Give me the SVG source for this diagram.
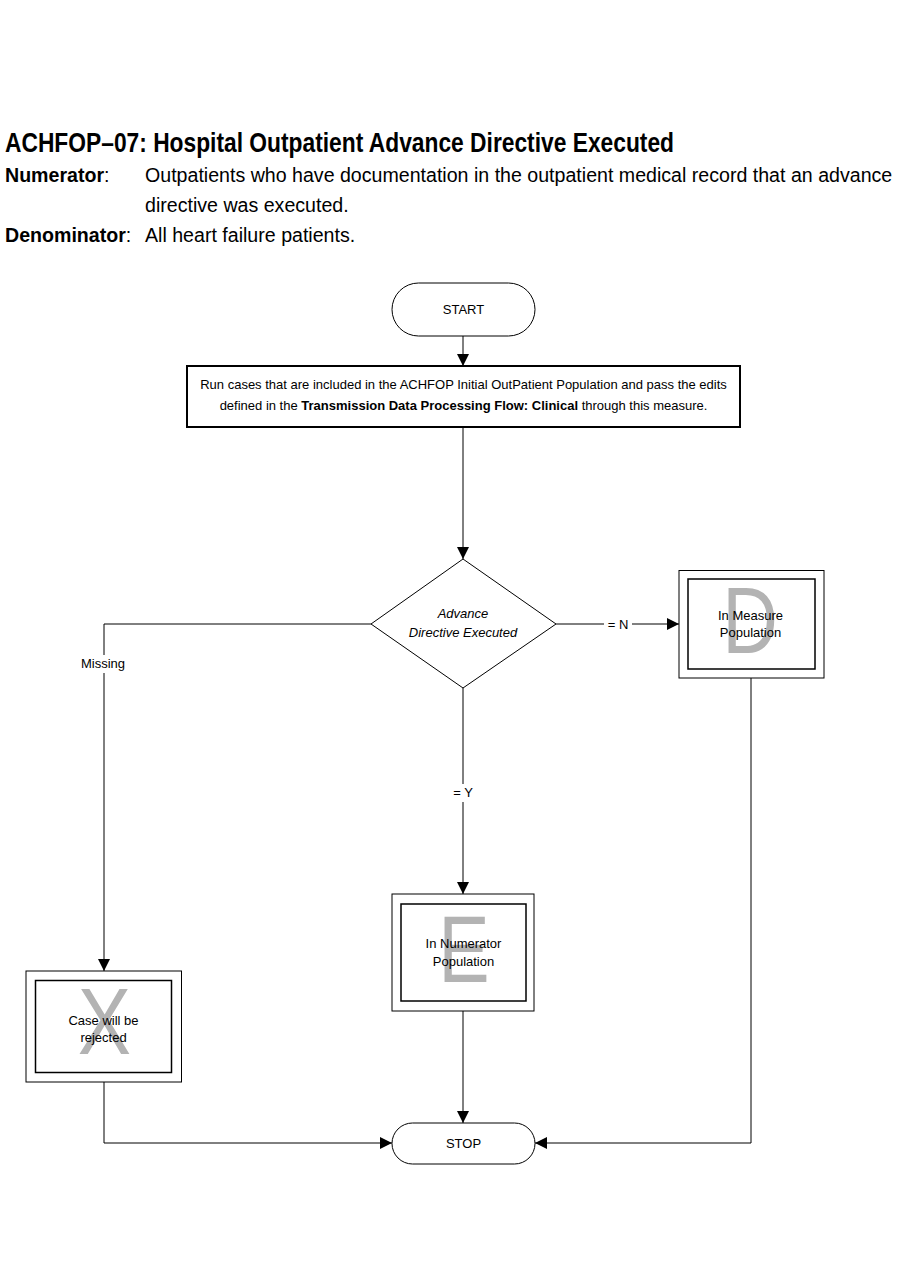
<svg xmlns="http://www.w3.org/2000/svg" width="900" height="1286" viewBox="0 0 900 1286">
<style>
text{font-family:"Liberation Sans",Arial,sans-serif;fill:#000}
.t13{font-size:13px}
.hdr{font-size:19.6px}
.mid{text-anchor:middle}
.shape{fill:#fff;stroke:#000;stroke-width:1}
.inner{fill:#fff;stroke:#000;stroke-width:1.5}
.big{font-size:94px;fill:#b3b3b3;text-anchor:middle}
.conn{fill:none;stroke:#000;stroke-width:1}
.lblbg{fill:#fff;stroke:none}
</style>
<defs>
<marker id="arr" markerUnits="userSpaceOnUse" markerWidth="12" markerHeight="12" refX="12" refY="6" orient="auto">
<path d="M0,0 L12,6 L0,12 z" fill="#000"/>
</marker>
</defs>
<rect width="900" height="1286" fill="#fff"/>
<g id="header">
<text x="5" y="152" font-size="27" font-weight="bold" textLength="669" lengthAdjust="spacingAndGlyphs">ACHFOP–07: Hospital Outpatient Advance Directive Executed</text>
<text class="hdr" x="5" y="182"><tspan font-weight="bold">Numerator</tspan>:</text>
<text class="hdr" x="145" y="182">Outpatients who have documentation in the outpatient medical record that an advance</text>
<text class="hdr" x="145" y="212">directive was executed.</text>
<text class="hdr" x="5" y="242"><tspan font-weight="bold">Denominator</tspan>:</text>
<text class="hdr" x="145" y="242">All heart failure patients.</text>
</g>
<g id="connectors">
<line class="conn" x1="463" y1="336" x2="463" y2="366" marker-end="url(#arr)"/>
<line class="conn" x1="463" y1="427" x2="463" y2="559" marker-end="url(#arr)"/>
<line class="conn" x1="556" y1="624" x2="679" y2="624" marker-end="url(#arr)"/>
<polyline class="conn" points="371,624 104,624 104,971" marker-end="url(#arr)"/>
<line class="conn" x1="463" y1="688" x2="463" y2="894" marker-end="url(#arr)"/>
<polyline class="conn" points="751,678 751,1143 535,1143" marker-end="url(#arr)"/>
<polyline class="conn" points="104,1082 104,1143 392,1143" marker-end="url(#arr)"/>
<line class="conn" x1="463" y1="1011" x2="463" y2="1123" marker-end="url(#arr)"/>
<rect class="lblbg" x="604" y="615" width="28" height="18"/>
<text class="t13 mid" x="618" y="629">= N</text>
<rect class="lblbg" x="78" y="655" width="50" height="18"/>
<text class="t13 mid" x="103" y="668">Missing</text>
<rect class="lblbg" x="450" y="784" width="26" height="18"/>
<text class="t13 mid" x="463" y="797">= Y</text>
</g>
<g id="start">
<rect class="shape" x="392" y="283" width="143" height="53" rx="26.5" ry="26.5"/>
<text class="t13 mid" x="463.5" y="314">START</text>
</g>
<g id="run-cases">
<rect x="187" y="366" width="553" height="61" fill="#fff" stroke="#000" stroke-width="2"/>
<text class="t13 mid" x="463.5" y="389">Run cases that are included in the ACHFOP Initial OutPatient Population and pass the edits</text>
<text class="t13 mid" x="463.5" y="410">defined in the <tspan font-weight="bold">Transmission Data Processing Flow: Clinical</tspan> through this measure.</text>
</g>
<g id="decision">
<polygon class="shape" points="463,559 556,624 463,688 371,624"/>
<text class="t13 mid" x="463" y="618" font-style="italic">Advance</text>
<text class="t13 mid" x="463" y="637" font-style="italic">Directive Executed</text>
</g>
<g id="measure-pop">
<rect class="shape" x="679" y="570.5" width="145" height="107.5"/>
<rect class="inner" x="688" y="579" width="127" height="90"/>
<text class="big" transform="translate(750,653) scale(0.82,1)">D</text>
<text class="t13 mid" x="750.5" y="620">In Measure</text>
<text class="t13 mid" x="750.5" y="637">Population</text>
</g>
<g id="numerator-pop">
<rect class="shape" x="392" y="894" width="142" height="117"/>
<rect class="inner" x="401" y="904" width="125" height="97"/>
<text class="big" transform="translate(464,982) scale(0.82,1)">E</text>
<text class="t13 mid" x="463.5" y="948">In Numerator</text>
<text class="t13 mid" x="463.5" y="966">Population</text>
</g>
<g id="rejected">
<rect class="shape" x="26" y="971" width="155.5" height="111"/>
<rect class="inner" x="35.5" y="980.5" width="136" height="92" stroke="#444" stroke-width="2"/>
<text class="big" transform="translate(104.5,1054) scale(0.85,1)">X</text>
<text class="t13 mid" x="103.5" y="1025">Case will be</text>
<text class="t13 mid" x="103.5" y="1042">rejected</text>
</g>
<g id="stop">
<rect class="shape" x="392" y="1123" width="143" height="41" rx="20.5" ry="20.5"/>
<text class="t13 mid" x="463.5" y="1148">STOP</text>
</g>
</svg>
